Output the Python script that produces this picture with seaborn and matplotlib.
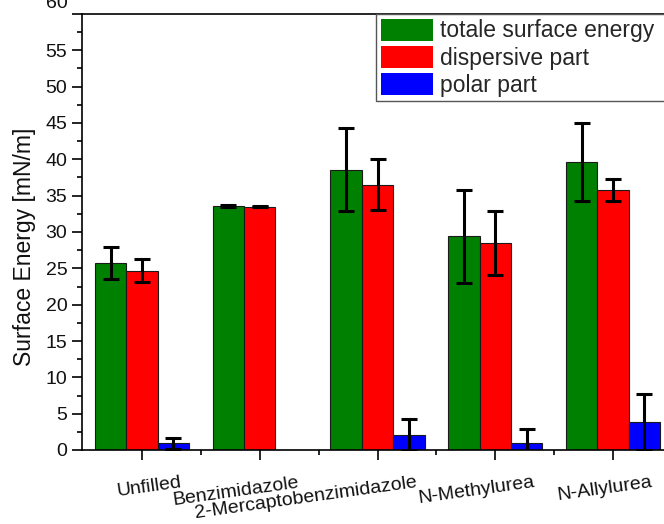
import numpy as np
import pandas as pd
import matplotlib
matplotlib.use("Agg")
import matplotlib.pyplot as plt
from matplotlib.patches import Patch
from matplotlib.ticker import MultipleLocator, FixedLocator
from matplotlib.transforms import ScaledTranslation
import seaborn as sns

# Surface energy of the filled samples (mean and standard deviation, mN/m)
samples = ["Unfilled", "Benzimidazole", "2-Mercaptobenzimidazole",
           "N-Methylurea", "N-Allylurea"]
components = ["totale surface energy", "dispersive part", "polar part"]

total = [25.7, 33.6, 38.6, 29.4, 39.6]
total_err = [2.2, 0.12, 5.7, 6.4, 5.4]
dispersive = [24.7, 33.5, 36.5, 28.5, 35.8]
dispersive_err = [1.6, 0.12, 3.5, 4.4, 1.5]
polar = [0.9, 0.0, 2.1, 0.9, 3.85]
polar_err = [0.8, 0.0, 2.2, 2.0, 3.8]

colors = ["#008000", "#ff0000", "#0000ff"]

sns.set_style("ticks")
plt.rcParams["font.family"] = ["Liberation Sans", "DejaVu Sans"]

values = [total, dispersive, polar]
errors = [total_err, dispersive_err, polar_err]
df = pd.DataFrame({
    "sample": np.tile(samples, len(components)),
    "component": np.repeat(components, len(samples)),
    "energy": np.concatenate(values),
})

fig = plt.figure(figsize=(6.64, 5.24), dpi=100)
ax = fig.add_axes([82 / 664, 74 / 524, 591 / 664, 436 / 524])

sns.barplot(data=df, x="sample", y="energy", hue="component",
            order=samples, hue_order=components,
            palette=dict(zip(components, colors)), saturation=1,
            width=0.8, errorbar=None, edgecolor="#1a1a1a", linewidth=0.8,
            legend=False, ax=ax)

# standard deviation whiskers on top of each bar
for cont, errs in zip(ax.containers, errors):
    for bar, e in zip(cont, errs):
        if e > 0:
            ax.errorbar(bar.get_x() + bar.get_width() / 2, bar.get_height(),
                        yerr=e, fmt="none", ecolor="black", elinewidth=2.2,
                        capsize=5.5, capthick=2.2, zorder=4)

ax.set_ylim(0, 60)
ax.set_xlim(-0.51, 4.51)
ax.set_yticks(np.arange(0, 61, 5))
ax.yaxis.set_minor_locator(MultipleLocator(2.5))
ax.xaxis.set_minor_locator(FixedLocator([0.5, 1.5, 2.5, 3.5, 4.5]))

for side in ["left", "bottom", "top", "right"]:
    ax.spines[side].set_color("black")
    ax.spines[side].set_linewidth(1.2)

ax.tick_params(axis="both", which="major", direction="out", length=7,
               width=1.2, color="black", labelsize=14, labelcolor="#111111")
ax.tick_params(axis="both", which="minor", direction="out", length=3.6,
               width=1.2, color="black")
ax.tick_params(axis="y", which="major", pad=3.6)
ax.tick_params(axis="x", which="major", pad=10.5)
ax.tick_params(top=False, right=False, which="both")

ax.set_xticks(range(len(samples)))
ax.set_xticklabels(samples, rotation=8, ha="right", va="top",
                   rotation_mode="anchor")
shift = ScaledTranslation(38 / 100, 0, fig.dpi_scale_trans)
for lbl in ax.get_xticklabels():
    lbl.set_transform(lbl.get_transform() + shift)

# top tick label sits a little above its tick
top_tick = ax.yaxis.get_major_ticks()[-1]
top_tick.label1.set_transform(top_tick.label1.get_transform()
                              + ScaledTranslation(0, 13 / 100, fig.dpi_scale_trans))

ax.set_xlabel("")
ax.set_ylabel("Surface Energy [mN/m]", fontsize=16.5, color="#111111")
ax.yaxis.set_label_coords(-0.078, 0.4656)

handles = [Patch(facecolor=c, edgecolor="none", label=l)
           for c, l in zip(colors, components)]
leg = ax.legend(handles=handles, loc="upper left",
                bbox_to_anchor=(0.4975, 0.0, 0.5025, 1.0), mode="expand",
                borderaxespad=0, fontsize=16.5, frameon=True, fancybox=False,
                edgecolor="#555555", framealpha=1, handlelength=2.3,
                handleheight=1.1, labelspacing=0.15, handletextpad=0.3,
                borderpad=0.2)
leg.get_frame().set_linewidth(1.0)

fig.savefig("out.png", dpi=100)
